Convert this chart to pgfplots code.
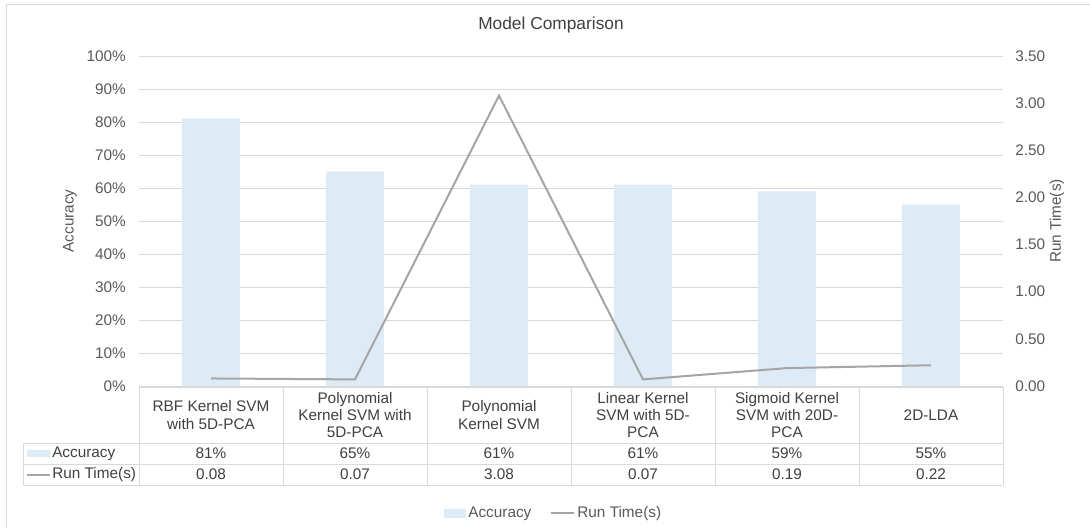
\documentclass[border=0pt]{standalone}
\usepackage{fontspec}
\setmainfont{Liberation Sans}
\usepackage{pgfplots}
\usepackage{pgfplotstable}
\pgfplotsset{compat=1.18}

\definecolor{barblue}{HTML}{DDEBF7}
\definecolor{linegray}{HTML}{A5A5A5}
\definecolor{gridgray}{HTML}{D9D9D9}
\definecolor{txt}{HTML}{595959}
\definecolor{txtdark}{HTML}{404040}

% accuracy in percent, run time in seconds
\pgfplotstableread{
x acc rt
0 81 0.08
1 65 0.07
2 61 3.08
3 61 0.07
4 59 0.19
5 55 0.22
}\modeldata

\newcommand{\lbl}{\fontsize{11.5}{13}\selectfont}

\begin{document}
\begin{tikzpicture}
\useasboundingbox (0,0) rectangle (817.5pt,-396pt);
\fill[white] (0,0) rectangle (817.5pt,-396pt);

% chart frame and title (units: 0.75pt, y downwards)
\begin{scope}[x=0.75pt,y=-0.75pt]
  \draw[gridgray, line width=0.75pt] (6,530) -- (6,5) -- (1092,5);
  \node[font=\fontsize{13}{15}\selectfont, text=txtdark] at (551,25) {Model Comparison};
\end{scope}

% accuracy bars on the left axis
\begin{axis}[
  at={(104.25pt,-289.5pt)}, anchor=south west,
  width=648pt, height=247.5pt, scale only axis,
  xmin=-0.5, xmax=5.5, ymin=0, ymax=100,
  xtick=\empty,
  ytick={0,10,20,30,40,50,60,70,80,90,100},
  yticklabel={\pgfmathprintnumber{\tick}\%},
  /pgf/number format/assume math mode=true,
  ymajorgrids, grid style={color=gridgray, line width=0.75pt},
  axis line style={draw=none},
  major tick length=0pt,
  yticklabel style={font=\lbl, text=txt, anchor=east, inner sep=0pt, xshift=-9.75pt},
  ylabel={Accuracy},
  ylabel style={font=\lbl, text=txt, at={(axis description cs:-0.0799,0.5)}, anchor=center},
]
\addplot[ybar, bar width=43.5pt, fill=barblue, draw=none] table[x=x, y=acc] {\modeldata};
\end{axis}

% run time line on the right axis
\begin{axis}[
  at={(104.25pt,-289.5pt)}, anchor=south west,
  width=648pt, height=247.5pt, scale only axis,
  xmin=-0.5, xmax=5.5, ymin=0, ymax=3.5,
  axis y line*=right, axis x line=none,
  xtick=\empty,
  ytick={0,0.5,1,1.5,2,2.5,3,3.5},
  /pgf/number format/assume math mode=true,
  yticklabel style={font=\lbl, text=txt, anchor=west, inner sep=0pt, xshift=9pt,
    /pgf/number format/.cd, fixed, fixed zerofill, precision=2},
  axis line style={draw=none},
  major tick length=0pt,
  ylabel={Run Time(s)},
  ylabel style={font=\lbl, text=txt, at={(axis description cs:1.0625,0.5)}, anchor=center},
  legend style={draw=none, fill=none, font=\lbl, text=txt,
    at={(axis description cs:0.4803,-0.3848)}, anchor=center,
    legend columns=2, /tikz/every even column/.append style={column sep=12pt},
    inner sep=0pt, cells={anchor=west}},
]
\addlegendimage{legend image code/.code={\fill[barblue] (0pt,-3pt) rectangle (15.75pt,3pt);}}
\addlegendentry{Accuracy}
\addplot[color=linegray, line width=1.5pt,
  legend image code/.code={\draw[linegray, line width=1.5pt] (0pt,0pt) -- (17pt,0pt);}]
  table[x=x, y=rt] {\modeldata};
\addlegendentry{Run Time(s)}
\end{axis}

% data table below the plot
\begin{scope}[x=0.75pt,y=-0.75pt]
  \draw[gridgray, line width=0.75pt] (139,387) -- (1003,387);
  \foreach \yy in {443,464,485} \draw[gridgray, line width=0.75pt] (23,\yy) -- (1003,\yy);
  \draw[gridgray, line width=0.75pt] (23,443) -- (23,485);
  \foreach \xx in {139,283,427,571,715,859,1003} \draw[gridgray, line width=0.75pt] (\xx,387) -- (\xx,485);

  \begin{scope}[every node/.style={font=\lbl, text=txtdark, align=center}]
    \node at (211,415) {RBF Kernel SVM\\with 5D-PCA};
    \node at (355,415) {Polynomial\\Kernel SVM with\\5D-PCA};
    \node at (499,415) {Polynomial\\Kernel SVM};
    \node at (643,415) {Linear Kernel\\SVM with 5D-\\PCA};
    \node at (787,415) {Sigmoid Kernel\\SVM with 20D-\\PCA};
    \node at (931,415) {2D-LDA};
    \foreach \i in {0,...,5} {
      \pgfplotstablegetelem{\i}{acc}\of\modeldata
      \node at ({211+144*\i},453.5) {\pgfmathprintnumber[assume math mode=true]{\pgfplotsretval}\%};
      \pgfplotstablegetelem{\i}{rt}\of\modeldata
      \node at ({211+144*\i},474.5) {\pgfmathprintnumber[fixed,fixed zerofill,precision=2,assume math mode=true]{\pgfplotsretval}};
    }
  \end{scope}

  \fill[barblue] (27,450) rectangle (50,457);
  \draw[linegray, line width=1.5pt] (27,474.5) -- (50,474.5);
  \node[font=\lbl, text=txtdark, anchor=west, inner sep=0pt] at (52,453.5) {Accuracy};
  \node[font=\lbl, text=txtdark, anchor=west, inner sep=0pt] at (52,474.5) {Run Time(s)};
\end{scope}
\end{tikzpicture}
\end{document}
